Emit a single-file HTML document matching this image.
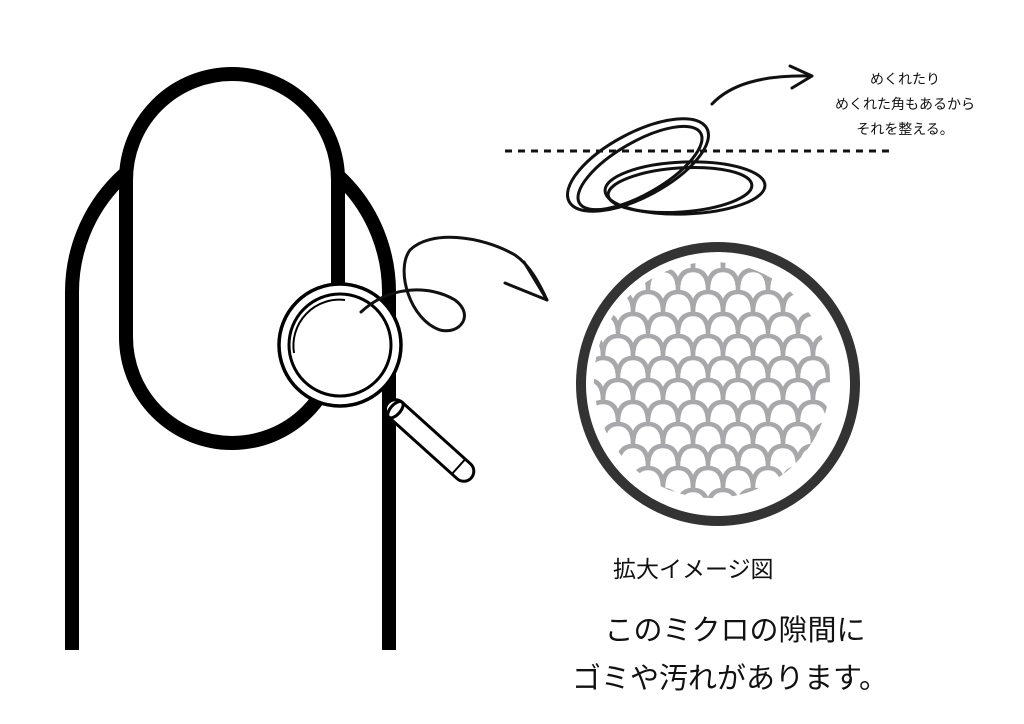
<!DOCTYPE html>
<html><head><meta charset="utf-8"><style>
html,body{margin:0;padding:0;background:#fff;}
svg{display:block;}
text{font-family:"Liberation Sans","Noto Sans CJK JP",sans-serif;fill:#111;}
</style></head><body>
<svg width="1024" height="724" viewBox="0 0 1024 724" xmlns="http://www.w3.org/2000/svg">
<defs>
<pattern id="sc" width="30" height="44" patternUnits="userSpaceOnUse" x="588" y="268">
<g fill="none" stroke="#a8a8aa" stroke-width="4.5">
<path d="M0 22 Q0 2 15 2 Q30 2 30 22"/>
<path d="M-15 44 Q-15 24 0 24 Q15 24 15 44"/>
<path d="M15 44 Q15 24 30 24 Q45 24 45 44"/>
</g>
</pattern>
<clipPath id="cc"><circle cx="712" cy="380" r="118"/></clipPath>
</defs>
<!-- finger outline -->
<path d="M72 650 V292 A158 158 0 0 1 389 292 V650" fill="none" stroke="#000" stroke-width="14"/>
<!-- nail -->
<rect x="126" y="74" width="212" height="369" rx="106" ry="106" fill="#fff" stroke="#000" stroke-width="14"/>
<!-- magnifier handle -->
<g transform="translate(388,403) rotate(42)">
<rect x="0" y="-10" width="112" height="20" rx="10" fill="#fff" stroke="#000" stroke-width="3"/>
<ellipse cx="10" cy="0" rx="5" ry="10" fill="#fff" stroke="#000" stroke-width="3"/>
<line x1="95" y1="-10" x2="95" y2="10" stroke="#000" stroke-width="2"/>
</g>
<circle cx="340" cy="345" r="61" fill="#fff" stroke="#000" stroke-width="3.5"/>
<circle cx="340" cy="345" r="51" fill="#fff" stroke="#000" stroke-width="3"/>
<path d="M294 353 A46 46 0 0 1 345 300" fill="none" stroke="#000" stroke-width="2"/>
<!-- loop arrow -->
<path d="M361 312 C390 285 430 285 455 300 C475 315 460 335 440 330 C410 320 395 270 410 250 C430 230 480 235 515 255 C530 265 540 285 547 300" fill="none" stroke="#111" stroke-width="3" stroke-linecap="round"/>
<path d="M524 262 L547 300 L505 283" fill="none" stroke="#111" stroke-width="3" stroke-linecap="round" stroke-linejoin="round"/>
<!-- big circle -->
<circle cx="718" cy="384" r="137" fill="#fff" stroke="#333" stroke-width="10"/>
<rect x="590" y="262" width="250" height="250" fill="url(#sc)" clip-path="url(#cc)"/>
<!-- dashed line -->
<line x1="505" y1="151" x2="895" y2="151" stroke="#111" stroke-width="3" stroke-dasharray="7,6"/>
<!-- scribble ellipses -->
<g fill="none" stroke="#111" stroke-width="3">
<ellipse cx="638" cy="165" rx="78" ry="32" transform="rotate(-28 638 165)"/>
<ellipse cx="640" cy="168" rx="70" ry="26" transform="rotate(-30 640 168)"/>
<ellipse cx="685" cy="188" rx="80" ry="26" transform="rotate(-2 685 188)"/>
<ellipse cx="680" cy="190" rx="72" ry="22" transform="rotate(-4 680 190)"/>
</g>
<!-- top arrow -->
<path d="M712 104 C730 85 760 75 810 76" fill="none" stroke="#111" stroke-width="3" stroke-linecap="round"/>
<path d="M790 66 L812 76 L792 88" fill="none" stroke="#111" stroke-width="3" stroke-linecap="round" stroke-linejoin="round"/>
<!-- texts -->
<g font-size="14" text-anchor="middle">
<text x="905" y="84">めくれたり</text>
<text x="905" y="109">めくれた角もあるから</text>
<text x="905" y="134">それを整える。</text>
</g>
<text x="613" y="577" font-size="23">拡大イメージ図</text>
<text x="735" y="640" font-size="29" text-anchor="middle">このミクロの隙間に</text>
<text x="730" y="688" font-size="29" text-anchor="middle">ゴミや汚れがあります。</text>
</svg>
</body></html>
